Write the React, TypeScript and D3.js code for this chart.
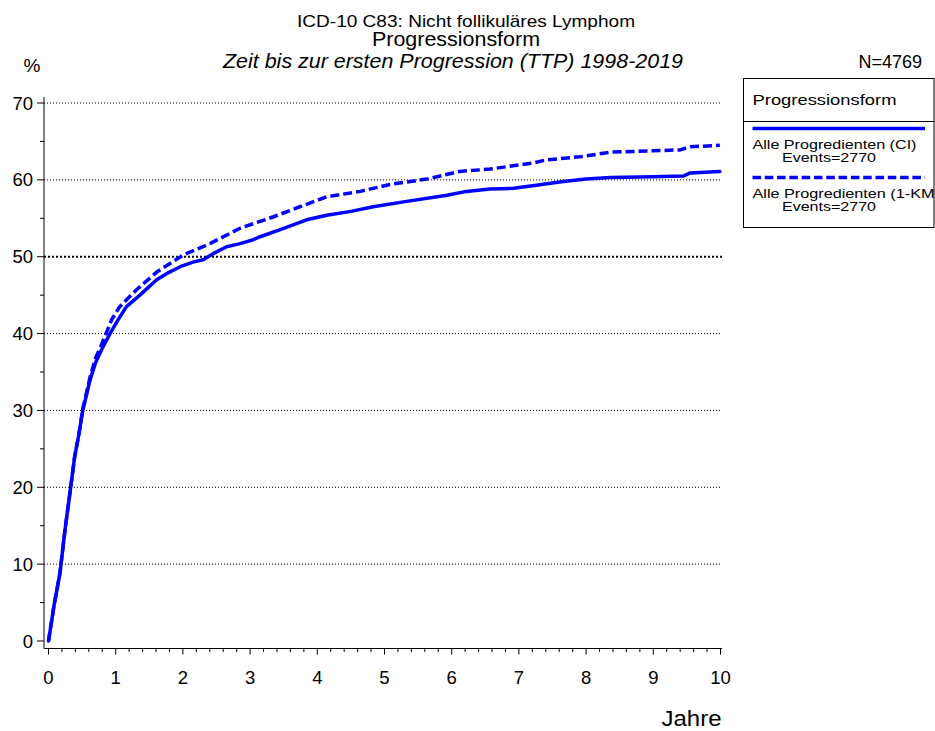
import React from "react";
import * as d3 from "d3";

const ciT = [0, 0.08, 0.17, 0.245, 0.33, 0.39, 0.45, 0.51, 0.62, 0.7, 0.79, 0.915, 1.05, 1.16, 1.36, 1.61, 1.8, 1.96, 2.15, 2.3, 2.45, 2.65, 2.85, 3.04, 3.15, 3.5, 3.84, 4.14, 4.5, 4.83, 5.33, 5.93, 6.22, 6.57, 6.92, 7.26, 7.66, 8.0, 8.36, 9.0, 9.45, 9.55, 9.99];
const ciV = [0, 4.5, 8.8, 14.4, 20, 24, 26.8, 30, 34, 36.2, 37.9, 40, 42, 43.5, 45, 47, 48, 48.7, 49.3, 49.6, 50.4, 51.3, 51.7, 52.2, 52.6, 53.7, 54.8, 55.4, 55.9, 56.5, 57.2, 58.0, 58.5, 58.8, 58.9, 59.3, 59.8, 60.1, 60.3, 60.4, 60.5, 60.9, 61.1];

const kmT = [0, 0.08, 0.17, 0.245, 0.33, 0.39, 0.45, 0.51, 0.62, 0.7, 0.79, 0.94, 1.06, 1.31, 1.61, 2.0, 2.4, 2.85, 3.35, 3.74, 4.14, 4.64, 5.08, 5.63, 6.12, 6.57, 7.21, 7.41, 7.91, 8.36, 9.4, 9.55, 9.99];
const kmV = [0, 4.5, 8.8, 14.4, 20, 24, 26.8, 30.2, 34.4, 36.8, 38.6, 41.8, 43.5, 45.7, 48, 50.2, 51.7, 53.7, 55.2, 56.5, 57.8, 58.5, 59.4, 60.1, 61.1, 61.4, 62.2, 62.6, 63.0, 63.6, 63.9, 64.3, 64.5];

const xTicks = [0, 1, 2, 3, 4, 5, 6, 7, 8, 9, 10];
const yTicks = [0, 10, 20, 30, 40, 50, 60, 70];

const titleLines = ["ICD-10 C83: Nicht follikuläres Lymphom", "Progressionsform", "Zeit bis zur ersten Progression (TTP) 1998-2019"];
const legendTitle = "Progressionsform";
const seriesNames = ["Alle Progredienten (CI)", "Alle Progredienten (1-KM"];
const seriesEvents = ["Events=2770", "Events=2770"];

const FONT = "'Liberation Sans', Arial, sans-serif";
const BLUE = "#0000ff";

export default function App() {
  const W = 935, H = 731;
  const x = d3.scaleLinear().domain([0, 10]).range([48.5, 720.5]);
  const y = d3.scaleLinear().domain([0, 70]).range([641, 103]);
  const axX = 44, axY = 648.5;

  const line = d3.line<[number, number]>().x(d => x(d[0])).y(d => y(d[1])).curve(d3.curveLinear);
  const ciPts: [number, number][] = ciT.map((t, i) => [t, ciV[i]]);
  const kmPts: [number, number][] = kmT.map((t, i) => [t, kmV[i]]);

  const yMinor = d3.range(0, 71, 5).filter(v => v % 10 !== 0);
  const xMinor = d3.range(0, 10.01, 0.2).filter(v => Math.abs(v - Math.round(v)) > 0.01);

  return (
    <svg width={W} height={H} style={{ position: "absolute", left: 0, top: 0, background: "#fff" }} fontFamily={FONT}>
      <rect x={0} y={0} width={W} height={H} fill="#fff" />
      {/* titles */}
      <text x={297} y={27} fontSize={17} textLength={338} lengthAdjust="spacingAndGlyphs">{titleLines[0]}</text>
      <text x={372} y={46} fontSize={19.5} textLength={168} lengthAdjust="spacingAndGlyphs">{titleLines[1]}</text>
      <text x={223} y={68} fontSize={19.5} fontStyle="italic" textLength={460} lengthAdjust="spacingAndGlyphs">{titleLines[2]}</text>
      <text x={32} y={72} textAnchor="middle" fontSize={19}>%</text>
      <text x={922} y={68} textAnchor="end" fontSize={18}>N=4769</text>

      {/* grid */}
      {yTicks.filter(v => v > 0).map(v => (
        <line key={"g" + v} x1={axX} x2={722} y1={y(v)} y2={y(v)} stroke="#000"
          strokeWidth={v === 50 ? 2 : 1} strokeDasharray={v === 50 ? "2,2" : "1,2"} />
      ))}

      {/* y axis */}
      <line x1={axX} x2={axX} y1={97} y2={axY} stroke="#000" strokeWidth={1} />
      {yTicks.map(v => (
        <g key={"yt" + v}>
          <line x1={axX - 7} x2={axX} y1={y(v)} y2={y(v)} stroke="#000" />
          <text x={33} y={y(v) + 6.5} textAnchor="end" fontSize={18.5}>{v}</text>
        </g>
      ))}
      {yMinor.map(v => (
        <line key={"ym" + v} x1={axX - 4} x2={axX} y1={y(v)} y2={y(v)} stroke="#000" />
      ))}

      {/* x axis */}
      <line x1={axX} x2={722} y1={axY} y2={axY} stroke="#000" strokeWidth={1} />
      {xTicks.map(v => (
        <g key={"xt" + v}>
          <line x1={x(v)} x2={x(v)} y1={axY} y2={axY + 6} stroke="#000" />
          <text x={x(v)} y={684} textAnchor="middle" fontSize={18.5}>{v}</text>
        </g>
      ))}
      {xMinor.map(v => (
        <line key={"xm" + v.toFixed(1)} x1={x(v)} x2={x(v)} y1={axY} y2={axY + 3.5} stroke="#000" />
      ))}
      <text x={661.5} y={726} fontSize={22} textLength={60} lengthAdjust="spacingAndGlyphs">Jahre</text>

      {/* series */}
      <path d={line(kmPts) || ""} fill="none" stroke={BLUE} strokeWidth={3.5} strokeDasharray="9,4" strokeLinejoin="round" />
      <path d={line(ciPts) || ""} fill="none" stroke={BLUE} strokeWidth={3.5} strokeLinejoin="round" strokeLinecap="round" />

      {/* legend */}
      <rect x={743.5} y={78.5} width={190.5} height={149} fill="#fff" stroke="#000" strokeWidth={1} />
      <line x1={743.5} x2={934} y1={121.5} y2={121.5} stroke="#000" />
      <text x={752.5} y={105} fontSize={15.5} textLength={144} lengthAdjust="spacingAndGlyphs">{legendTitle}</text>
      <line x1={752.5} x2={925} y1={128.5} y2={128.5} stroke={BLUE} strokeWidth={3.5} />
      <text x={752.5} y={149} fontSize={13.5} textLength={164} lengthAdjust="spacingAndGlyphs">{seriesNames[0]}</text>
      <text x={782} y={161.5} fontSize={13.5} textLength={94} lengthAdjust="spacingAndGlyphs">{seriesEvents[0]}</text>
      <line x1={752.5} x2={925} y1={177.5} y2={177.5} stroke={BLUE} strokeWidth={3.5} strokeDasharray="8.5,3.8" />
      <text x={752.5} y={198} fontSize={13.5} textLength={182} lengthAdjust="spacingAndGlyphs">{seriesNames[1]}</text>
      <text x={782} y={210.5} fontSize={13.5} textLength={94} lengthAdjust="spacingAndGlyphs">{seriesEvents[1]}</text>
    </svg>
  );
}
